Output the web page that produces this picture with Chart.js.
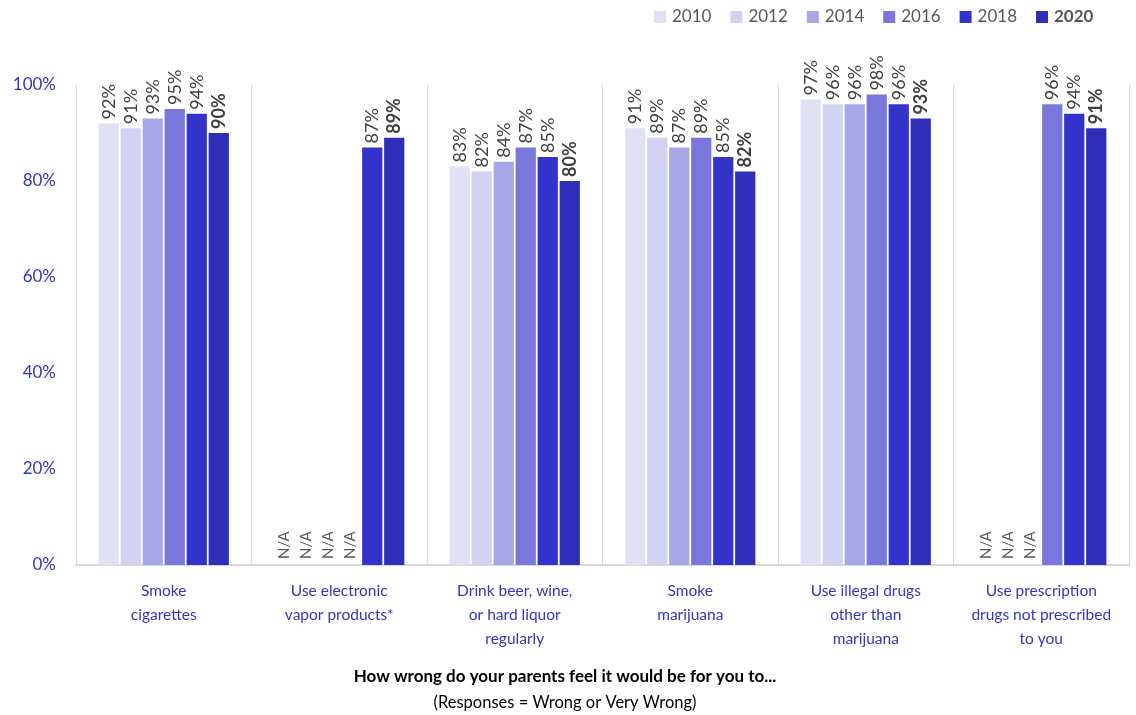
<!DOCTYPE html>
<html><head><meta charset="utf-8">
<script src="https://cdn.jsdelivr.net/npm/chart.js@4.4.0/dist/chart.umd.min.js"></script>
<style>html,body{margin:0;padding:0;background:#fff;} #wrap{width:1136px;height:715px;position:relative}</style>
</head><body><div id="wrap"><canvas id="c"></canvas></div>
<script>
const categories = [["Smoke","cigarettes"],["Use electronic","vapor products*"],["Drink beer, wine,","or hard liquor","regularly"],["Smoke","marijuana"],["Use illegal drugs","other than","marijuana"],["Use prescription","drugs not prescribed","to you"]];
const years = ["2010","2012","2014","2016","2018","2020"];
const v2010 = [92, null, 83, 91, 97, null];
const v2012 = [91, null, 82, 89, 96, null];
const v2014 = [93, null, 84, 87, 96, null];
const v2016 = [95, null, 87, 89, 98, 96];
const v2018 = [94, 87, 85, 85, 96, 94];
const v2020 = [90, 89, 80, 82, 93, 91];
const yTicks = [0, 20, 40, 60, 80, 100];
const colors = ["#E1E1F5","#D2D2F2","#A6A6E8","#7878DC","#3333CC","#2E2EB8"];
const FONT = "Lato, 'Open Sans', sans-serif";
const series = [v2010, v2012, v2014, v2016, v2018, v2020];

const labelPlugin = {
  id: 'labels',
  afterDatasetsDraw(chart) {
    const ctx = chart.ctx;
    const yScale = chart.scales.y;
    chart.data.datasets.forEach((ds, di) => {
      const meta = chart.getDatasetMeta(di);
      const bold = di === chart.data.datasets.length - 1;
      meta.data.forEach((el, i) => {
        const v = ds.data[i];
        ctx.save();
        if (v === null || v === undefined) {
          ctx.translate(el.x, yScale.getPixelForValue(0) - 6);
          ctx.rotate(-Math.PI / 2);
          ctx.font = "15px " + FONT;
          ctx.fillStyle = "#595959";
          ctx.textAlign = "left";
          ctx.textBaseline = "middle";
          ctx.fillText("N/A", 0, 0);
        } else {
          ctx.translate(el.x, el.y - 4);
          ctx.rotate(-Math.PI / 2);
          ctx.font = (bold ? "bold " : "") + "18px " + FONT;
          ctx.fillStyle = "#404040";
          ctx.textAlign = "left";
          ctx.textBaseline = "middle";
          ctx.fillText(v + "%", 0, 0);
        }
        ctx.restore();
      });
    });
  },
  afterDraw(chart) {
    const ctx = chart.ctx;
    ctx.save();
    ctx.textBaseline = "middle";
    let x = 654;
    chart.data.datasets.forEach((ds, di) => {
      const bold = di === chart.data.datasets.length - 1;
      ctx.fillStyle = ds.backgroundColor;
      ctx.fillRect(x, 11, 12, 12);
      ctx.font = (bold ? "bold " : "") + "17px " + FONT;
      ctx.fillStyle = "#595959";
      ctx.textAlign = "left";
      ctx.fillText(ds.label, x + 18, 17);
      x += 76.4;
    });
    ctx.textAlign = "center";
    ctx.fillStyle = "#000";
    ctx.font = "bold 17px " + FONT;
    ctx.fillText("How wrong do your parents feel it would be for you to...", 565, 677);
    ctx.font = "16.5px " + FONT;
    ctx.fillText("(Responses = Wrong or Very Wrong)", 565, 703);
    ctx.restore();
  }
};

new Chart(document.getElementById('c'), {
  type: 'bar',
  data: {
    labels: categories,
    datasets: series.map((d, i) => ({
      label: years[i],
      data: d,
      backgroundColor: colors[i],
      borderWidth: 0,
      categoryPercentage: 0.752,
      barPercentage: 0.92
    }))
  },
  options: {
    responsive: true,
    maintainAspectRatio: false,
    animation: false,
    layout: { padding: { top: 85, right: 7, left: 10, bottom: 50 } },
    plugins: { legend: { display: false }, tooltip: { enabled: false }, title: { display: false } },
    scales: {
      x: {
        grid: { display: true, offset: true, color: "#D9D9D9", lineWidth: 1, drawTicks: false },
        border: { display: true, color: "#D9D9D9", width: 2 },
        ticks: { color: "#3535C0", font: { family: FONT, size: 15.5, lineHeight: 1.55 }, padding: 14, maxRotation: 0 }
      },
      y: {
        min: 0, max: 100,
        afterBuildTicks(scale) { scale.ticks = yTicks.map(v => ({ value: v })); },
        afterFit(scale) { scale.width = 66; },
        grid: { display: false, drawTicks: false },
        border: { display: true, color: "#D9D9D9", width: 1 },
        ticks: { color: "#3535C0", font: { family: FONT, size: 17 }, padding: 20, callback: v => v + "%" }
      }
    }
  },
  plugins: [labelPlugin]
});
</script>
</body></html>
